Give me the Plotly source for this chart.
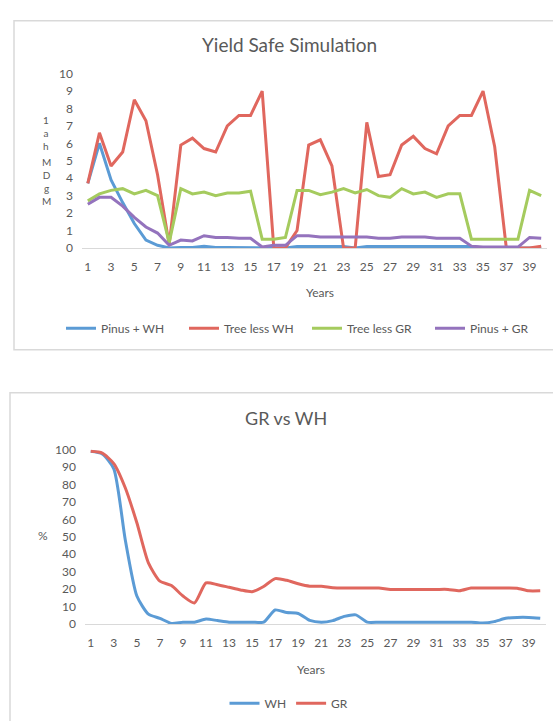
import plotly.graph_objects as go

years = list(range(1, 41))

# Top chart: Yield Safe Simulation (Mg DM ha-1)
pinus_wh = [3.7, 6.0, 3.9, 2.6, 1.4, 0.45, 0.15, 0.0, 0.03, 0.03,
            0.1, 0.03, 0.02, 0.02, 0.02, 0.02, 0.0, 0.0, 0.08, 0.08,
            0.08, 0.08, 0.08, 0.0, 0.08, 0.08, 0.08, 0.08, 0.08, 0.08,
            0.08, 0.08, 0.08, 0.08, 0.0, 0.0, 0.0, 0.0, 0.0, 0.0]
treeless_wh = [3.7, 6.6, 4.7, 5.5, 8.5, 7.3, 4.2, 0.2, 5.9, 6.3,
               5.7, 5.5, 7.0, 7.6, 7.6, 9.0, 0.0, 0.0, 1.0, 5.9,
               6.2, 4.7, 0.0, 0.0, 7.2, 4.1, 4.2, 5.9, 6.4, 5.7,
               5.4, 7.0, 7.6, 7.6, 9.0, 5.8, 0.0, 0.0, 0.0, 0.1]
treeless_gr = [2.7, 3.1, 3.3, 3.4, 3.1, 3.3, 3.0, 0.3, 3.4, 3.1,
               3.2, 3.0, 3.15, 3.15, 3.25, 0.5, 0.5, 0.6, 3.3, 3.3,
               3.05, 3.2, 3.4, 3.15, 3.35, 3.0, 2.9, 3.4, 3.1, 3.2,
               2.9, 3.1, 3.1, 0.5, 0.5, 0.5, 0.5, 0.5, 3.3, 3.0]
pinus_gr = [2.5, 2.9, 2.9, 2.4, 1.75, 1.2, 0.85, 0.15, 0.45, 0.4,
            0.7, 0.6, 0.6, 0.55, 0.55, 0.05, 0.15, 0.15, 0.7, 0.7,
            0.62, 0.62, 0.62, 0.62, 0.62, 0.55, 0.55, 0.62, 0.6, 0.62,
            0.55, 0.55, 0.55, 0.1, 0.05, 0.05, 0.05, 0.05, 0.6, 0.55]

# Bottom chart: GR vs WH (%)
wh_pct = [99, 97.5, 89, 48, 16, 5.6, 3.2, 0.3, 1, 1,
          2.8, 1.9, 1, 1, 1, 1, 8, 6.5, 6, 2,
          1, 1.9, 4.3, 5.2, 1, 1, 1, 1, 1, 1,
          1, 1, 1, 1, 0.5, 1.3, 3.2, 3.7, 3.7, 3.2]
gr_pct = [99, 98, 92, 78, 58, 35, 24.5, 22, 16, 12,
          23.5, 22.5, 21, 19.5, 18.5, 21.5, 26, 25, 23, 21.6,
          21.6, 20.8, 20.6, 20.6, 20.6, 20.6, 19.8, 19.8, 19.8, 19.8,
          19.8, 19.8, 19, 20.6, 20.6, 20.6, 20.6, 20.5, 19, 19]

x_tick_vals = list(range(1, 40, 2))
x_tick_labels = [str(v) for v in x_tick_vals]
top_y_ticks = list(range(0, 11))
bottom_y_ticks = list(range(0, 101, 10))
y_title_top = "1<br>a<br>h"
y_title_bottom = "M<br>D<br>g<br>M"

W, H = 553, 721
FONT = "Lato"
GREY = "#595959"
BLUE = "#5B9BD5"
RED = "#E0675E"
GREEN = "#A5CB5E"
PURPLE = "#9473BD"


def px(x):
    return x / W


def py(y):
    return 1 - y / H


fig = go.Figure()

top_series = [("Pinus + WH", pinus_wh, BLUE), ("Tree less WH", treeless_wh, RED),
              ("Tree less GR", treeless_gr, GREEN), ("Pinus + GR", pinus_gr, PURPLE)]
for name, vals, col in top_series:
    fig.add_trace(go.Scatter(x=years, y=vals, name=name, mode="lines",
                             line=dict(color=col, width=3), xaxis="x", yaxis="y",
                             legend="legend"))

bottom_series = [("WH", wh_pct, BLUE), ("GR", gr_pct, RED)]
for name, vals, col in bottom_series:
    fig.add_trace(go.Scatter(x=years, y=vals, name=name, mode="lines",
                             line=dict(color=col, width=3, shape="spline", smoothing=0.6),
                             xaxis="x2", yaxis="y2", legend="legend2"))

xcommon = dict(range=[0.5, 40.5], tickmode="array", tickvals=x_tick_vals,
               ticktext=x_tick_labels, showgrid=False, zeroline=False,
               showline=True, linecolor="#D9D9D9", linewidth=1, ticks="",
               tickfont=dict(family=FONT, size=12, color=GREY),
               ticklabelstandoff=8, fixedrange=True)
ycommon = dict(showgrid=False, zeroline=False, showline=False, ticks="",
               tickfont=dict(family=FONT, size=12, color=GREY),
               ticklabelstandoff=8, fixedrange=True)

fig.update_layout(
    width=W, height=H,
    margin=dict(l=0, r=0, t=0, b=0),
    paper_bgcolor="white", plot_bgcolor="white",
    showlegend=True,
    xaxis=dict(domain=[px(82), px(547)], anchor="y", **xcommon),
    yaxis=dict(domain=[py(245), py(67)], anchor="x", range=[0, 10],
               tickvals=top_y_ticks, **ycommon),
    xaxis2=dict(domain=[px(85), px(546)], anchor="y2", **xcommon),
    yaxis2=dict(domain=[py(629), py(451)], anchor="x2", range=[0, 100],
                tickvals=bottom_y_ticks, **ycommon),
    legend=dict(orientation="h", x=px(63), y=py(327), xanchor="left",
                yanchor="middle", font=dict(family=FONT, size=12, color=GREY),
                itemwidth=30, entrywidth=78, entrywidthmode="pixels",
                bgcolor="rgba(0,0,0,0)"),
    legend2=dict(orientation="h", x=px(289), y=py(710), xanchor="center",
                 yanchor="middle", font=dict(family=FONT, size=12, color=GREY),
                 itemwidth=30, bgcolor="rgba(0,0,0,0)"),
    shapes=[
        dict(type="rect", xref="paper", yref="paper", x0=px(14), x1=px(570),
             y0=py(349), y1=py(13), line=dict(color="#D9D9D9", width=1.5)),
        dict(type="rect", xref="paper", yref="paper", x0=px(10), x1=px(570),
             y0=py(740), y1=py(393), line=dict(color="#D9D9D9", width=1.5)),
    ],
)

annotations = [
    dict(text="Yield Safe Simulation", x=px(289), y=py(37), font=dict(size=19, color=GREY)),
    dict(text="Years", x=px(320), y=py(291), font=dict(size=12, color=GREY)),
    dict(text="GR vs WH", x=px(286), y=py(419), font=dict(size=18, color=GREY)),
    dict(text="Years", x=px(311), y=py(676), font=dict(size=12, color=GREY)),
    dict(text="%", x=px(43), y=py(539), font=dict(size=12, color=GREY)),
    dict(text=y_title_top, x=px(46), y=py(128), font=dict(size=10, color=GREY)),
    dict(text=y_title_bottom, x=px(46), y=py(177), font=dict(size=10, color=GREY)),
]
for a in annotations:
    a.update(xref="paper", yref="paper", showarrow=False, xanchor="center", yanchor="middle")
    a["font"]["family"] = FONT
fig.update_layout(annotations=annotations)

fig.write_html("out.html", config={"displayModeBar": False},
               post_script="document.body.style.margin='0px';")
